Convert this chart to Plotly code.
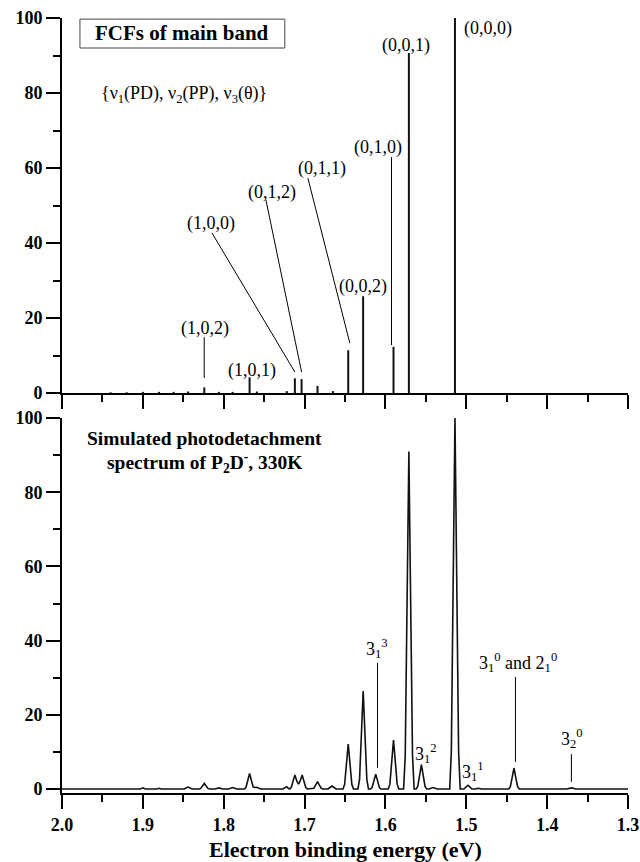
import plotly.graph_objects as go

# ---------------- data ----------------
# Top panel: Franck-Condon factors (stick spectrum) of the main band
stick_E = [1.514, 1.571, 1.590, 1.6276, 1.646, 1.665, 1.684, 1.7037, 1.712,
           1.722, 1.759, 1.768, 1.789, 1.806, 1.824, 1.844, 1.862, 1.880,
           1.900, 1.920, 1.940]
stick_h = [100, 90.7, 12.3, 25.8, 11.4, 0.5, 1.9, 3.7, 3.9,
           0.5, 0.4, 4.2, 0.3, 0.3, 1.5, 0.4, 0.3, 0.3,
           0.3, 0.2, 0.2]

# Bottom panel: simulated photodetachment spectrum
spec_E = [2.000,
          1.903, 1.900, 1.897,
          1.883, 1.880, 1.877,
          1.865, 1.862, 1.859,
          1.849, 1.8465, 1.844, 1.8415, 1.839,
          1.8305, 1.8285, 1.8265, 1.824, 1.8215, 1.8195, 1.8175,
          1.811, 1.806, 1.801,
          1.794, 1.7915, 1.789, 1.7865, 1.784,
          1.7745, 1.7725, 1.7705, 1.768, 1.7655, 1.7635, 1.761, 1.759, 1.7565, 1.754,
          1.727, 1.7245, 1.722, 1.720,
          1.7185, 1.7165, 1.7145, 1.712, 1.7095, 1.7075, 1.7055, 1.703, 1.7005, 1.6985, 1.6965,
          1.6905, 1.6885, 1.6865, 1.684, 1.6815, 1.6795, 1.6775,
          1.671, 1.6685, 1.666, 1.6635, 1.661,
          1.6525, 1.6505, 1.6485, 1.646, 1.6435, 1.6415, 1.6395,
          1.634, 1.632, 1.630, 1.6275, 1.625, 1.623, 1.621,
          1.6185, 1.6165, 1.6145, 1.612, 1.6095, 1.6075, 1.6055,
          1.5965, 1.5945, 1.5925, 1.590, 1.5875, 1.5855, 1.5835,
          1.5775, 1.5755, 1.5735, 1.571, 1.5685, 1.5665, 1.5645,
          1.562, 1.560, 1.558, 1.5555, 1.553, 1.551, 1.549,
          1.546, 1.541, 1.536,
          1.5205, 1.5185, 1.5165, 1.514, 1.5115, 1.5095, 1.5075,
          1.503, 1.5005, 1.498, 1.4955, 1.493,
          1.489, 1.485, 1.481,
          1.4475, 1.4455, 1.4435, 1.441, 1.4385, 1.4365, 1.4345,
          1.433, 1.430, 1.427,
          1.376, 1.370, 1.364,
          1.300]
spec_I = [0,
          0, 0.3, 0,
          0, 0.2, 0,
          0, 0.2, 0,
          0, 0.25, 0.5, 0.25, 0,
          0, 0.15, 0.75, 1.5, 0.75, 0.15, 0,
          0, 0.3, 0,
          0, 0.2, 0.4, 0.2, 0,
          0, 0.4, 2.1, 4.2, 2.1, 0.5, 0.4, 0.45, 0.2, 0,
          0, 0.3, 0.6, 0.2,
          0, 0.4, 1.9, 3.8, 2.1, 1.3, 2.1, 3.8, 1.9, 0.4, 0,
          0, 0.2, 1.0, 2.0, 1.0, 0.2, 0,
          0, 0.4, 0.8, 0.4, 0,
          0, 1.2, 6.0, 12.1, 6.0, 1.2, 0,
          0, 2.6, 13.2, 26.4, 13.2, 2.6, 0,
          0, 0.4, 2.0, 4.0, 2.0, 0.4, 0,
          0, 1.3, 6.6, 13.2, 6.6, 1.3, 0,
          0, 9, 45, 91, 45, 9, 0,
          0, 0.7, 3.3, 6.6, 3.3, 0.7, 0,
          0, 0.4, 0,
          0, 10, 50, 100, 50, 10, 0,
          0, 0.5, 1.0, 0.5, 0,
          0, 0.2, 0,
          0, 0.6, 2.8, 5.6, 2.8, 0.6, 0,
          0, 0.2, 0,
          0, 0.3, 0,
          0]

x_ticks = [2.0, 1.9, 1.8, 1.7, 1.6, 1.5, 1.4, 1.3]
x_tick_labels = ["2.0", "1.9", "1.8", "1.7", "1.6", "1.5", "1.4", "1.3"]
y_ticks = [0, 20, 40, 60, 80, 100]
y_tick_labels = ["0", "20", "40", "60", "80", "100"]

# Top-panel labels: (text, E, value) and leader lines (E0, v0, E1, v1)
top_labels = [("(0,0,0)", 1.4734, 97.1), ("(0,0,1)", 1.5748, 92.8),
              ("(0,1,0)", 1.6094, 65.6), ("(0,1,1)", 1.6786, 60.0),
              ("(0,1,2)", 1.7398, 53.6), ("(1,0,0)", 1.8158, 45.3),
              ("(0,0,2)", 1.6279, 28.5), ("(1,0,2)", 1.8232, 17.3),
              ("(1,0,1)", 1.7651, 6.1)]
top_leaders = [(1.5925, 62.9, 1.5925, 12.8), (1.6959, 57.3, 1.644, 13.3),
               (1.7478, 51.5, 1.7037, 5.6), (1.8146, 42.7, 1.712, 5.6),
               (1.8241, 14.9, 1.8241, 4.0)]

bot_labels = [("3<sub>1</sub><sup>3</sup>", 1.6106, 38.0),
              ("3<sub>1</sub><sup>2</sup>", 1.5500, 9.7),
              ("3<sub>1</sub><sup>1</sup>", 1.4920, 4.6),
              ("3<sub>1</sub><sup>0</sup> and 2<sub>1</sub><sup>0</sup>", 1.4357, 34.0),
              ("3<sub>2</sub><sup>0</sup>", 1.3696, 13.7)]
bot_leaders = [(1.6098, 34.0, 1.6098, 5.7), (1.4392, 30.2, 1.4392, 7.3),
               (1.3700, 9.4, 1.3700, 1.9)]

# ---------------- figure ----------------
SERIF = "Liberation Serif, Times New Roman, serif"

stick_x, stick_y = [], []
for e, h in zip(stick_E, stick_h):
    stick_x += [e, e, None]
    stick_y += [0, h, None]

fig = go.Figure()
fig.add_trace(go.Scatter(x=stick_x, y=stick_y, mode="lines",
                         line=dict(color="#111111", width=2),
                         xaxis="x2", yaxis="y2", showlegend=False,
                         hoverinfo="skip"))
fig.add_trace(go.Scatter(x=spec_E, y=spec_I, mode="lines",
                         line=dict(color="#111111", width=1.6),
                         xaxis="x", yaxis="y", showlegend=False))

axis_common = dict(showgrid=False, zeroline=False, showline=True,
                   linecolor="black", linewidth=2, ticks="outside",
                   tickcolor="black", tickwidth=2, ticklen=14,
                   automargin=False,
                   tickfont=dict(family=SERIF, size=18, color="black",
                                 weight="bold"))

top_dom = [(793 - 393) / 775, 1.0]
bot_dom = [0.0, (793 - 418) / 775]

fig.update_layout(
    width=640, height=862,
    margin=dict(l=62, r=12, t=18, b=69, autoexpand=False),
    paper_bgcolor="white", plot_bgcolor="white",
    xaxis=dict(**axis_common, range=[2.0, 1.3], domain=[0, 1], anchor="y",
               tickvals=x_ticks, ticktext=x_tick_labels,
               minor=dict(dtick=0.05, tick0=2.0, ticks="outside", ticklen=7,
                          tickwidth=2, tickcolor="black")),
    yaxis=dict(**axis_common, range=[-1.08, 100], domain=bot_dom, anchor="x",
               tickvals=y_ticks, ticktext=y_tick_labels,
               minor=dict(dtick=10, tick0=0, ticks="outside", ticklen=7,
                          tickwidth=2, tickcolor="black")),
    xaxis2=dict(**axis_common, range=[2.0, 1.3], domain=[0, 1], anchor="y2",
                matches="x", tickvals=x_ticks, showticklabels=False,
                minor=dict(dtick=0.05, tick0=2.0, ticks="outside", ticklen=7,
                           tickwidth=2, tickcolor="black")),
    yaxis2=dict(**axis_common, range=[0, 100], domain=top_dom, anchor="x2",
                tickvals=y_ticks, ticktext=y_tick_labels,
                minor=dict(dtick=10, tick0=0, ticks="outside", ticklen=7,
                           tickwidth=2, tickcolor="black")),
)

annots = []
shapes = []
for t, e, v in top_labels:
    annots.append(dict(text=t, x=e, y=v, xref="x2", yref="y2", showarrow=False,
                       xanchor="center", yanchor="middle",
                       font=dict(family=SERIF, size=18, color="black")))
for e0, v0, e1, v1 in top_leaders:
    shapes.append(dict(type="line", x0=e0, y0=v0, x1=e1, y1=v1, xref="x2",
                       yref="y2", line=dict(color="black", width=1)))
for t, e, v in bot_labels:
    annots.append(dict(text=t, x=e, y=v, xref="x", yref="y", showarrow=False,
                       xanchor="center", yanchor="middle",
                       font=dict(family=SERIF, size=18, color="black")))
for e0, v0, e1, v1 in bot_leaders:
    shapes.append(dict(type="line", x0=e0, y0=v0, x1=e1, y1=v1, xref="x",
                       yref="y", line=dict(color="black", width=1)))

# box with title in top panel
shapes.append(dict(type="rect", x0=1.9778, x1=1.7244, y0=92.0, y1=99.7,
                   xref="x2", yref="y2", line=dict(color="#444444", width=1)))
annots.append(dict(text="FCFs of main band", x=1.8511, y=95.9, xref="x2",
                   yref="y2", showarrow=False, xanchor="center",
                   yanchor="middle",
                   font=dict(family=SERIF, size=21, color="black",
                             weight="bold")))
annots.append(dict(text="{ν<sub>1</sub>(PD), ν<sub>2</sub>(PP), ν<sub>3</sub>(θ)}",
                   x=1.8492, y=79.5, xref="x2", yref="y2", showarrow=False,
                   xanchor="center", yanchor="middle",
                   font=dict(family=SERIF, size=18, color="black")))

annots.append(dict(text="Simulated photodetachment", x=1.8232, y=94.6,
                   xref="x", yref="y", showarrow=False, xanchor="center",
                   yanchor="middle",
                   font=dict(family=SERIF, size=19.5, color="black",
                             weight="bold")))
annots.append(dict(text="spectrum of P<sub>2</sub>D<sup>-</sup>, 330K",
                   x=1.8232, y=87.9, xref="x", yref="y", showarrow=False,
                   xanchor="center", yanchor="middle",
                   font=dict(family=SERIF, size=19.5, color="black",
                             weight="bold")))

annots.append(dict(text="Electron binding energy (eV)", x=0.5,
                   y=(793 - 849) / 775, xref="paper", yref="paper",
                   showarrow=False, xanchor="center", yanchor="middle",
                   font=dict(family=SERIF, size=22, color="black",
                             weight="bold")))

fig.update_layout(annotations=annots, shapes=shapes)
fig.write_html("out.html")
